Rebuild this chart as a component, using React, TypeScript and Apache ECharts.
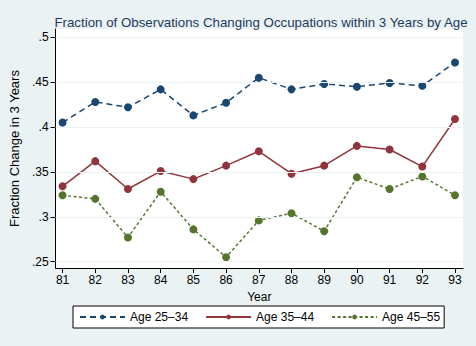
import React, { useEffect, useRef } from "react";
import * as echarts from "echarts";

const years = [81, 82, 83, 84, 85, 86, 87, 88, 89, 90, 91, 92, 93];
const age2534 = [0.405, 0.428, 0.422, 0.442, 0.413, 0.427, 0.455, 0.442, 0.448, 0.445, 0.449, 0.446, 0.472];
const age3544 = [0.334, 0.362, 0.331, 0.351, 0.342, 0.357, 0.373, 0.348, 0.357, 0.379, 0.375, 0.356, 0.409];
const age4555 = [0.324, 0.320, 0.277, 0.328, 0.286, 0.255, 0.296, 0.304, 0.284, 0.344, 0.331, 0.345, 0.324];
const yTicks = [0.25, 0.3, 0.35, 0.4, 0.45, 0.5];
const seriesNames = ["Age 25\u201334", "Age 35\u201344", "Age 45\u201355"];

const fmt = (v: number) => String(+v.toFixed(2)).replace(/^0/, "");

export default function App() {
  const ref = useRef<HTMLDivElement>(null);
  useEffect(() => {
    const chart = echarts.init(ref.current!, null, { renderer: "svg" });
    const pair = (arr: number[]) => years.map((y, i) => [y, arr[i]]);
    const font = "Liberation Sans, Arial, sans-serif";
    chart.setOption({
      animation: false,
      backgroundColor: "#eaf2f3",
      textStyle: { fontFamily: font },
      title: {
        text: "Fraction of Observations Changing Occupations within 3 Years by Age",
        left: 256,
        textAlign: "center",
        top: 11,
        textStyle: { fontSize: 13.3, fontWeight: "normal", color: "#1e3a5f", fontFamily: font },
      },
      grid: {
        left: 54,
        right: 13,
        top: 29,
        bottom: 78,
        show: true,
        backgroundColor: "#ffffff",
        borderWidth: 0,
      },
      legend: {
        left: 73,
        top: 306,
        orient: "horizontal",
        backgroundColor: "#ffffff",
        borderColor: "#000000",
        borderWidth: 1,
        borderRadius: 0,
        padding: [5, 4, 5, 6],
        itemGap: 17,
        itemWidth: 45,
        itemHeight: 6,
        textStyle: { fontSize: 12, color: "#000", fontFamily: font },
        data: seriesNames,
      },
      xAxis: {
        type: "value",
        min: 80.787,
        max: 93.244,
        name: "Year",
        nameLocation: "middle",
        nameGap: 18,
        nameTextStyle: { fontSize: 12, color: "#000", fontFamily: font },
        axisLine: { show: true, lineStyle: { color: "#000", width: 1 } },
        axisTick: { show: true, length: 5, lineStyle: { color: "#000" }, customValues: years },
        axisLabel: { color: "#000", fontSize: 12, margin: 6, customValues: years, formatter: (v: number) => String(v) },
        splitLine: { show: false },
      },
      yAxis: {
        type: "value",
        min: 0.24298,
        max: 0.50924,
        name: "Fraction Change in 3 Years",
        nameLocation: "middle",
        nameGap: 28,
        nameTextStyle: { fontSize: 13, color: "#000", fontFamily: font },
        axisLine: { show: true, lineStyle: { color: "#000", width: 1 } },
        axisTick: { show: true, length: 5, lineStyle: { color: "#000" }, customValues: yTicks },
        axisLabel: { color: "#000", fontSize: 12, margin: 7, customValues: yTicks, formatter: fmt },
        splitLine: { show: false },
      },
      series: [
        {
          type: "line",
          name: "grid",
          data: [],
          silent: true,
          markLine: {
            silent: true,
            symbol: "none",
            label: { show: false },
            lineStyle: { color: "#eaf2f3", type: "solid", width: 1 },
            data: yTicks.map((v) => ({ yAxis: v })),
          },
        },
        {
          type: "line",
          name: seriesNames[0],
          data: pair(age2534),
          symbol: "circle",
          symbolSize: 8,
          color: "#1a476f",
          lineStyle: { color: "#1a476f", width: 1.5, type: [6, 4] },
          itemStyle: { color: "#1a476f" },
        },
        {
          type: "line",
          name: seriesNames[1],
          data: pair(age3544),
          symbol: "circle",
          symbolSize: 8,
          color: "#90353b",
          lineStyle: { color: "#90353b", width: 1.5, type: "solid" },
          itemStyle: { color: "#90353b" },
        },
        {
          type: "line",
          name: seriesNames[2],
          data: pair(age4555),
          symbol: "circle",
          symbolSize: 8,
          color: "#55752f",
          lineStyle: { color: "#55752f", width: 1.5, type: [3, 2.5] },
          itemStyle: { color: "#55752f" },
        },
      ],
    });
    return () => chart.dispose();
  }, []);
  return (
    <div
      ref={ref}
      style={{ position: "fixed", left: 0, top: 0, width: 476, height: 346 }}
    />
  );
}
